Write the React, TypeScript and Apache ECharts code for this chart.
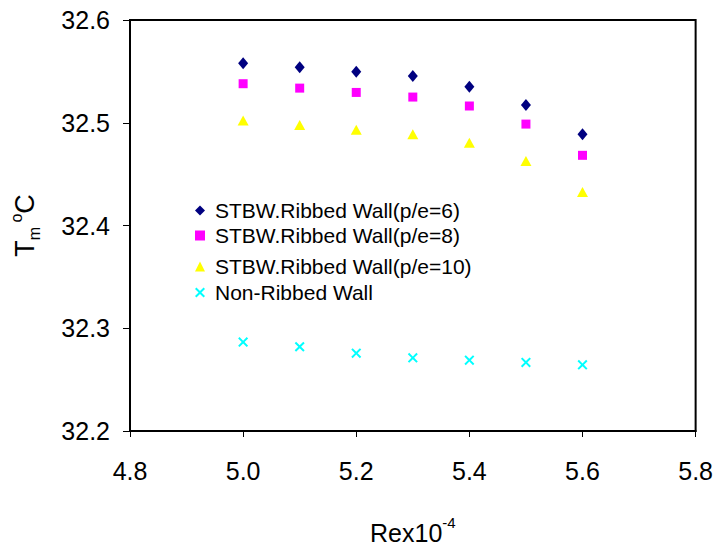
import React, { useEffect, useRef } from "react";
import * as echarts from "echarts";

const reValues = [5.0, 5.1, 5.2, 5.3, 5.4, 5.5, 5.6];
const ribbedPe6 = [32.558, 32.554, 32.5497, 32.5455, 32.535, 32.5173, 32.4888];
const ribbedPe8 = [32.538, 32.5337, 32.5295, 32.525, 32.5163, 32.4987, 32.4683];
const ribbedPe10 = [32.5022, 32.4978, 32.4933, 32.4888, 32.4805, 32.4628, 32.4327];
const nonRibbed = [32.2865, 32.282, 32.2757, 32.2712, 32.2689, 32.2667, 32.2644];

const seriesNames = [
  "STBW.Ribbed Wall(p/e=6)",
  "STBW.Ribbed Wall(p/e=8)",
  "STBW.Ribbed Wall(p/e=10)",
  "Non-Ribbed Wall",
];

const FONT = "'Liberation Sans', Arial, Helvetica, sans-serif";
const CROSS =
  "path://M0,1.4L1.4,0L5,3.6L8.6,0L10,1.4L6.4,5L10,8.6L8.6,10L5,6.4L1.4,10L0,8.6L3.6,5Z";

export default function App() {
  const ref = useRef<HTMLDivElement>(null);

  useEffect(() => {
    if (!ref.current) return;
    const chart = echarts.init(ref.current, undefined, { renderer: "svg" });

    const toPairs = (ys: number[]) => reValues.map((x, i) => [x, ys[i]]);
    const seriesData = [ribbedPe6, ribbedPe8, ribbedPe10, nonRibbed];
    const colors = ["#000080", "#FF00FF", "#FFFF00", "#00FFFF"];
    const symbols = ["diamond", "rect", "triangle", CROSS];
    const sizes: any[] = [[10, 12], 9, [11, 10], 10];
    const legendTops = [200, 225, 256, 282];

    chart.setOption({
      animation: false,
      backgroundColor: "#ffffff",
      grid: {
        left: 125,
        right: 20,
        top: 20,
        bottom: 115,
        show: true,
        borderColor: "#000",
        borderWidth: 2,
        backgroundColor: "transparent",
      },
      xAxis: {
        type: "value",
        min: 4.8,
        max: 5.8,
        interval: 0.2,
        name: "{a|Rex10}{b|-4}",
        nameLocation: "middle",
        nameGap: 84,
        nameTextStyle: {
          rich: {
            a: { fontFamily: FONT, fontSize: 25, color: "#000", lineHeight: 30, verticalAlign: "bottom" },
            b: { fontFamily: FONT, fontSize: 15, color: "#000", lineHeight: 30, verticalAlign: "top" },
          },
        },
        axisLine: { show: true, lineStyle: { color: "#000", width: 2 } },
        axisTick: { show: true, inside: false, length: 6, lineStyle: { color: "#000", width: 1 } },
        axisLabel: {
          fontFamily: FONT,
          fontSize: 25,
          color: "#000",
          margin: 27,
          formatter: (v: number) => v.toFixed(1),
        },
        splitLine: { show: false },
      },
      yAxis: {
        type: "value",
        min: 32.2,
        max: 32.6,
        interval: 0.1,
        name: "{a|T}{b|m}{c| o}{a|C}",
        nameLocation: "middle",
        nameRotate: 90,
        nameGap: 88,
        nameTextStyle: {
          rich: {
            a: { fontFamily: FONT, fontSize: 27, color: "#000", lineHeight: 34, verticalAlign: "middle" },
            b: { fontFamily: FONT, fontSize: 16, color: "#000", lineHeight: 34, verticalAlign: "bottom" },
            c: { fontFamily: FONT, fontSize: 16, color: "#000", lineHeight: 34, verticalAlign: "top" },
          },
        },
        axisLine: { show: true, lineStyle: { color: "#000", width: 2 } },
        axisTick: { show: true, inside: false, length: 7, lineStyle: { color: "#000", width: 1 } },
        axisLabel: {
          fontFamily: FONT,
          fontSize: 25,
          color: "#000",
          margin: 20,
          formatter: (v: number) => v.toFixed(1),
        },
        splitLine: { show: false },
      },
      legend: seriesNames.map((name, i) => ({
        data: [name],
        left: 195,
        top: legendTops[i],
        orient: "vertical",
        itemWidth: 10,
        itemHeight: 10,
        icon: symbols[i],
        padding: 0,
        textStyle: {
          fontFamily: FONT,
          fontSize: 21,
          color: "#000",
          padding: [0, 0, 0, 5],
        },
        selectedMode: false,
      })),
      series: seriesNames.map((name, i) => ({
        name,
        type: "scatter",
        data: toPairs(seriesData[i]),
        symbol: symbols[i],
        symbolSize: sizes[i],
        itemStyle: { color: colors[i], opacity: 1 },
        emphasis: { disabled: true },
      })),
    });

    return () => chart.dispose();
  }, []);

  return (
    <div
      ref={ref}
      style={{ position: "absolute", left: 0, top: 0, width: 716, height: 550 }}
    />
  );
}
